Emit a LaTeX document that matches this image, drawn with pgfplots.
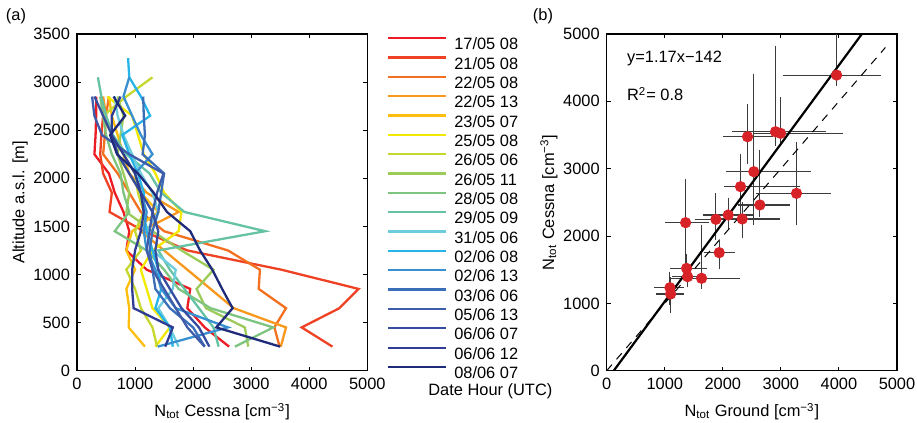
\documentclass[border=0pt]{standalone}
\usepackage{fontspec}
\setmainfont{Liberation Sans}
\usepackage{pgfplots}
\pgfplotsset{compat=1.18}
\newcommand\ff{\fontsize{8.2}{9.8}\selectfont}
\definecolor{c1}{RGB}{237,28,36}
\definecolor{c2}{RGB}{239,65,35}
\definecolor{c3}{RGB}{243,112,33}
\definecolor{c4}{RGB}{248,152,29}
\definecolor{c5}{RGB}{253,190,16}
\definecolor{c6}{RGB}{242,232,0}
\definecolor{c7}{RGB}{198,216,46}
\definecolor{c8}{RGB}{156,203,90}
\definecolor{c9}{RGB}{125,196,128}
\definecolor{c10}{RGB}{102,194,165}
\definecolor{c11}{RGB}{110,205,220}
\definecolor{c12}{RGB}{39,180,232}
\definecolor{c13}{RGB}{57,144,208}
\definecolor{c14}{RGB}{59,110,184}
\definecolor{c15}{RGB}{62,92,170}
\definecolor{c16}{RGB}{54,76,160}
\definecolor{c17}{RGB}{46,60,148}
\definecolor{c18}{RGB}{31,42,122}
\definecolor{dotred}{RGB}{215,35,40}
\definecolor{errgray}{RGB}{60,60,60}
\pgfplotsset{
  mystyle/.style={
    scale only axis, width=145.15pt, height=168.35pt,
    anchor=south west,
    axis line style={line width=0.6pt},
    tick align=inside, xtick pos=both, ytick pos=both,
    major tick length=2pt,
    tick style={black, line width=0.5pt},
    /pgf/number format/assume math mode=true,
    /pgf/number format/set thousands separator={},
    scaled ticks=false,
    xmin=0, xmax=5000,
    xtick={0,1000,2000,3000,4000,5000},
    ylabel shift=-4pt,
  }
}
\begin{document}
\begin{tikzpicture}[font=\ff]
\useasboundingbox (0,0) rectangle (458.5pt,211.5pt);
\begin{axis}[mystyle, at={(38.5pt,26.15pt)},
  ymin=0, ymax=3500, ytick={0,500,...,3500},
  xlabel={N\textsubscript{tot} Cessna [cm\textsuperscript{−3}]},
  ylabel={Altitude a.s.l. [m]},
  no markers,
  every axis plot/.append style={line width=1.15pt},
  legend cell align=left,
  legend style={at={(1.0679,0.9914)}, anchor=north west, draw=none, fill=none,
    inner sep=0pt, outer sep=0pt, row sep=3.3pt, column sep=3.5pt,
    nodes={inner sep=0pt, text height=5.8pt, text depth=0pt}},
  legend image code/.code={\draw[#1, line width=1.15pt] (0pt,2.9pt) -- (29pt,2.9pt);},
]
\addplot[c1] coordinates {(2620,250) (2200,450) (1900,650) (1950,850) (1200,1050) (850,1250) (900,1450) (800,1650) (650,1850) (550,2050) (300,2250) (320,2450) (330,2650) (330,2850)};
\addlegendentry{17/05 08}
\addplot[c2] coordinates {(4400,250) (3870,450) (4520,650) (4850,850) (3520,1050) (1900,1250) (1150,1450) (560,1650) (600,1850) (450,2050) (400,2250) (420,2450) (450,2650) (420,2850)};
\addlegendentry{21/05 08}
\addplot[c3] coordinates {(3490,250) (3400,450) (3600,650) (3130,850) (3150,1050) (2600,1250) (1500,1450) (1100,1650) (900,1850) (700,2050) (450,2250) (480,2450) (500,2650) (550,2850)};
\addlegendentry{22/05 08}
\addplot[c4] coordinates {(3510,250) (3600,450) (2700,650) (2300,850) (1900,1050) (1500,1250) (1100,1450) (1750,1650) (1200,1850) (900,2050) (700,2250) (600,2450) (500,2650) (450,2850)};
\addlegendentry{22/05 13}
\addplot[c5] coordinates {(1170,250) (890,450) (900,650) (850,850) (1000,1050) (850,1250) (950,1450) (1400,1650) (1100,1850) (900,2050) (800,2250) (700,2450) (600,2650) (550,2850)};
\addlegendentry{23/05 07}
\addplot[c6] coordinates {(1350,250) (1600,450) (1300,650) (1200,850) (1100,1050) (1300,1250) (1750,1450) (1800,1650) (1500,1850) (1350,2050) (1150,2250) (1050,2450) (950,2650) (520,2850)};
\addlegendentry{25/05 08}
\addplot[c7] coordinates {(1380,250) (1300,450) (1100,650) (1000,850) (850,1050) (1100,1250) (1000,1450) (1150,1650) (1050,1850) (1000,2050) (800,2250) (600,2450) (450,2650) (850,2850) (1300,3050)};
\addlegendentry{26/05 06}
\addplot[c8] coordinates {(2950,250) (2890,450) (2220,650) (2060,850) (2350,1050) (1800,1250) (1300,1450) (850,1650) (900,1850) (800,2050) (700,2250) (750,2450) (800,2650) (700,2850)};
\addlegendentry{26/05 11}
\addplot[c9] coordinates {(2720,250) (3380,450) (2300,650) (1750,850) (1500,1050) (1200,1250) (650,1450) (900,1650) (800,1850) (750,2050) (600,2250) (500,2450) (450,2650) (400,2850)};
\addlegendentry{28/05 08}
\addplot[c10] coordinates {(2440,250) (2350,450) (2100,650) (1850,850) (1600,1050) (1400,1250) (3240,1450) (1850,1650) (1450,1850) (1250,2050) (850,2250) (620,2450) (500,2650) (420,2850) (360,3050)};
\addlegendentry{29/05 09}
\addplot[c11] coordinates {(1750,250) (1600,450) (1400,650) (1650,850) (1700,1050) (1300,1250) (1200,1450) (1400,1650) (1300,1850) (1100,2050) (950,2250) (800,2450) (700,2650) (650,2850)};
\addlegendentry{31/05 06}
\addplot[c12] coordinates {(1650,250) (1600,450) (1350,650) (1450,850) (1400,1050) (1300,1250) (1200,1450) (1150,1650) (1150,1850) (1050,2050) (900,2250) (780,2450) (1260,2650) (1100,2850) (900,3050) (880,3250)};
\addlegendentry{02/06 08}
\addplot[c13] coordinates {(1390,250) (2600,450) (1700,650) (1450,850) (1350,1050) (1200,1250) (1150,1450) (1200,1650) (1100,1850) (1000,2050) (1300,2250) (1100,2450) (950,2650) (800,2850) (900,3050)};
\addlegendentry{02/06 13}
\addplot[c14] coordinates {(2200,250) (2000,450) (1600,650) (1350,850) (1300,1050) (1250,1250) (1300,1450) (1400,1650) (1450,1850) (1500,2050) (1130,2250) (1170,2450) (1150,2650) (1140,2850)};
\addlegendentry{03/06 06}
\addplot[c15] coordinates {(2200,250) (1900,450) (1700,650) (1500,850) (1300,1050) (1200,1250) (1250,1450) (1300,1650) (1380,1850) (1490,2050) (900,2250) (430,2450) (300,2650) (260,2850)};
\addlegendentry{05/06 13}
\addplot[c16] coordinates {(2280,250) (2100,450) (1800,650) (1600,850) (1400,1050) (1350,1250) (1400,1450) (1300,1650) (1100,1850) (900,2050) (700,2250) (600,2450) (450,2650) (300,2850)};
\addlegendentry{06/06 07}
\addplot[c17] coordinates {(1520,250) (1650,450) (975,650) (950,850) (950,1050) (1000,1250) (1100,1450) (1150,1650) (1100,1850) (1000,2050) (800,2250) (600,2450) (600,2650) (750,2850)};
\addlegendentry{06/06 12}
\addplot[c18] coordinates {(3500,250) (2400,450) (2680,650) (2500,850) (2330,1050) (2120,1250) (1950,1450) (1550,1650) (1320,1850) (1050,2050) (690,2250) (570,2450) (830,2650) (630,2850)};
\addlegendentry{08/06 07}
\end{axis}

\begin{axis}[mystyle, at={(303.35pt,26.15pt)},
  ymin=0, ymax=5000, ytick={0,1000,2000,3000,4000,5000},
  xlabel={N\textsubscript{tot} Ground [cm\textsuperscript{−3}]},
  ylabel={N\textsubscript{tot} Cessna [cm\textsuperscript{−3}]},
]
\addplot[only marks, mark=*, mark size=2.6pt, color=dotred, mark options={draw=dotred, fill=dotred},
  error bars/.cd, x dir=both, x explicit, y dir=both, y explicit,
  error bar style={errgray, line width=0.55pt},
  error mark options={errgray, mark size=1.9pt, line width=0.55pt}]
  table[x=x, y=y, x error minus=xm, x error plus=xp, y error minus=ym, y error plus=yp] {
x y xm xp ym yp
3960 4390 863 696 100 900
2426 3475 361 371 350 422
2908 3549 683 808 150 1223
2994 3525 413 1008 130 485
2534 2955 413 918 742 1400
2305 2733 212 964 400 430
3269 2634 631 527 421 703
2638 2461 315 459 124 767
2093 2312 373 373 150 200
1881 2248 300 300 250 336
2334 2253 300 580 220 200
1359 2198 287 332 550 594
1938 1753 201 212 191 121
1376 1520 212 287 130 150
1393 1396 200 250 100 100
1634 1372 459 591 100 742
1089 1233 210 170 200 180
1101 1139 184 160 230 200
};
\addplot[black, line width=0.5pt, dash pattern=on 4pt off 3.5pt] coordinates {(0,0) (4800,4800)};
\addplot[black, line width=1.1pt] coordinates {(121.4,0) (4395,5000)};
\node[anchor=west] at (axis cs:230,4640) {y=1.17x−142};
\node[anchor=west] at (axis cs:230,4110) {R\textsuperscript{2}= 0.8};
\end{axis}
\node at (8pt,203.5pt) {(a)};
\node at (271.5pt,203.5pt) {(b)};
\node[anchor=west, inner sep=0pt] at (214pt,16pt) {Date Hour (UTC)};
\end{tikzpicture}
\end{document}
